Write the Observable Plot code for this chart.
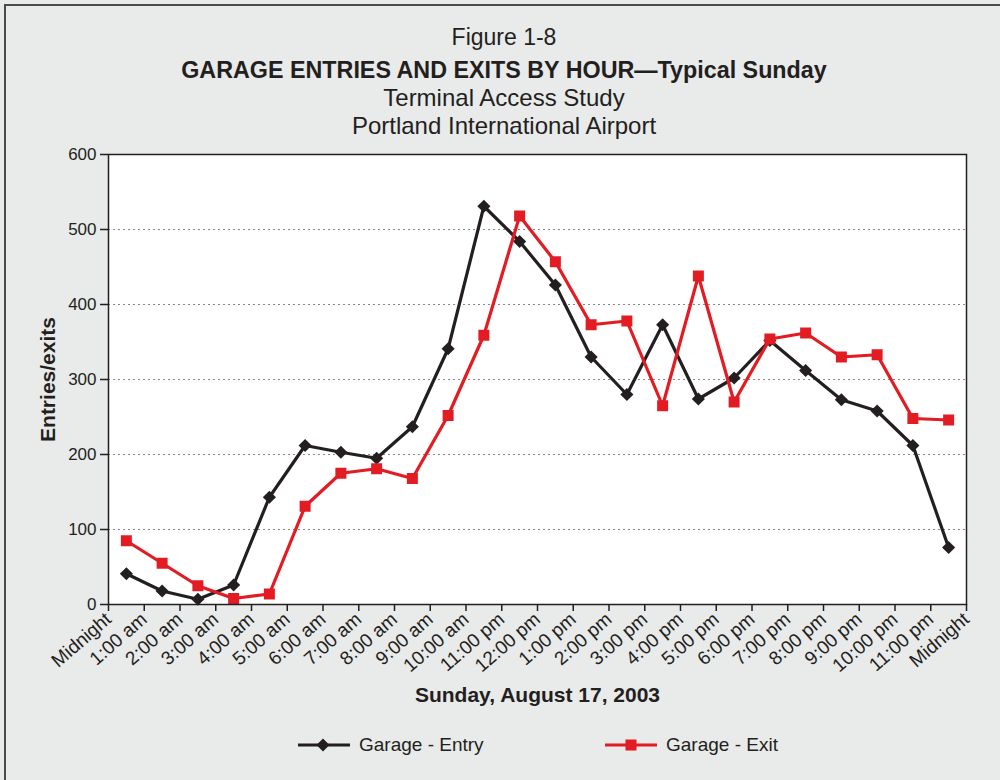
<!DOCTYPE html>
<html><head><meta charset="utf-8">
<script src="https://cdn.jsdelivr.net/npm/d3@7"></script>
<script src="https://cdn.jsdelivr.net/npm/@observablehq/plot@0.6"></script>
<style>
body{margin:0;background:#e9eaea;font-family:"Liberation Sans",Arial,Helvetica,sans-serif;color:#231f20;}
#page{position:relative;width:1000px;height:780px;overflow:hidden;background:#e9eaea;}
#frame{position:absolute;left:4px;top:4px;width:1100px;height:900px;border-left:2px solid #4a4a4a;border-top:2px solid #4a4a4a;}
.t{position:absolute;left:0;width:1008px;text-align:center;line-height:28px;height:28px;white-space:nowrap;}
#chart{position:absolute;left:0;top:139px;}
.leg{position:absolute;top:731px;height:28px;line-height:28px;font-size:19px;display:flex;align-items:center;}
.leg svg{margin-right:9px;}
</style></head>
<body>
<div id="page">
<div id="frame"></div>
<div class="t" style="top:23px;font-size:23px;">Figure 1-8</div>
<div class="t" style="top:56px;font-size:23.3px;font-weight:bold;">GARAGE ENTRIES AND EXITS BY HOUR—Typical Sunday</div>
<div class="t" style="top:84px;font-size:24px;">Terminal Access Study</div>
<div class="t" style="top:112px;font-size:24px;">Portland International Airport</div>
<div id="chart"></div>
<div class="leg" style="left:298px;"><svg width="52" height="14"><line x1="0" x2="52" y1="7" y2="7" stroke="#231f20" stroke-width="3.2"/><path d="M25,0.5 L31.5,7 L25,13.5 L18.5,7 Z" fill="#231f20"/></svg>Garage - Entry</div>
<div class="leg" style="left:605px;"><svg width="52" height="14"><line x1="0" x2="52" y1="7" y2="7" stroke="#e31b23" stroke-width="3.2"/><rect x="20.5" y="1.5" width="11" height="11" fill="#e31b23"/></svg>Garage - Exit</div>
</div>
<script>
const tickLabels = ["Midnight","1:00 am","2:00 am","3:00 am","4:00 am","5:00 am","6:00 am","7:00 am","8:00 am","9:00 am","10:00 am","11:00 pm","12:00 pm","1:00 pm","2:00 pm","3:00 pm","4:00 pm","5:00 pm","6:00 pm","7:00 pm","8:00 pm","9:00 pm","10:00 pm","11:00 pm","Midnight"];
const hours = d3.range(24);
const entry = [41,18,7,26,143,212,203,195,237,341,531,484,426,330,280,373,274,302,352,312,273,258,212,76];
const exit  = [85,55,25,8,14,131,175,181,168,252,359,518,457,373,378,265,438,270,354,362,330,333,248,246];
const yTicks = [0,100,200,300,400,500,600];

const entryData = hours.map((h,i)=>({slot:h+0.5, v:entry[i]}));
const exitData  = hours.map((h,i)=>({slot:h+0.5, v:exit[i]}));

const BLACK="#231f20", RED="#e31b23";
const chart = Plot.plot({
  width:1000, height:570,
  marginLeft:108, marginRight:34, marginTop:15, marginBottom:105,
  style:{background:"transparent", fontFamily:"'Liberation Sans',Arial,sans-serif", fontSize:"17px", color:BLACK},
  x:{domain:[0,24]},
  y:{domain:[0,600]},
  marks:[
    Plot.frame({fill:"white", stroke:null}),
    Plot.gridY(yTicks.filter(d=>d>0 && d<600), {stroke:"#888", strokeOpacity:1, strokeDasharray:"2,3", strokeWidth:1.2}),
    Plot.axisY(yTicks, {tickSize:8, tickPadding:4, stroke:BLACK, strokeWidth:1.5, fontSize:17, label:"Entries/exits", labelArrow:"none", labelAnchor:"center", labelOffset:68}),
    Plot.axisX(d3.range(25), {tickSize:7, tickPadding:5, stroke:BLACK, strokeWidth:1.5, fontSize:19, tickRotate:-41, tickFormat:i=>tickLabels[i], label:"Sunday, August 17, 2003", labelArrow:"none", labelAnchor:"center", labelOffset:97}),
    Plot.line(entryData, {x:"slot", y:"v", stroke:BLACK, strokeWidth:3.2}),
    Plot.dot(entryData, {x:"slot", y:"v", symbol:"diamond2", r:5.9, fill:BLACK, stroke:null}),
    Plot.line(exitData, {x:"slot", y:"v", stroke:RED, strokeWidth:3.2}),
    Plot.dot(exitData, {x:"slot", y:"v", symbol:"square", r:6.2, fill:RED, stroke:null}),
    Plot.frame({stroke:BLACK, strokeWidth:1.5})
  ]
});
d3.select(chart).selectAll("[aria-label='y-axis label'] text, [aria-label='x-axis label'] text")
  .style("font-weight","bold").style("font-size","21px")
  .text(function(){ return this.textContent.replace(/\s*[→↑←↓]\s*/g,""); });
d3.select(chart).selectAll("[aria-label='y-axis tick label'] text").style("font-size","17px");
d3.select(chart).selectAll("[aria-label='x-axis tick label'] text").style("font-size","19px");
document.getElementById("chart").appendChild(chart);
</script>
</body></html>
